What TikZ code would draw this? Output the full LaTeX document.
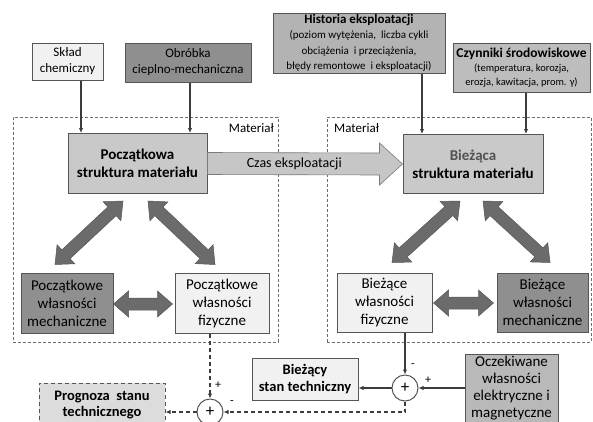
\documentclass[tikz,border=0pt]{standalone}
\usepackage{fontspec}
\setmainfont{Carlito}
\usetikzlibrary{calc,arrows.meta}
\definecolor{lightf}{HTML}{F1F1F1}
\definecolor{darkf}{HTML}{8F8F8F}
\definecolor{midf}{HTML}{B3B3B3}
\definecolor{czynf}{HTML}{BDBDBD}
\definecolor{structf}{HTML}{C9C9C9}
\definecolor{oczf}{HTML}{B9B9B9}
\definecolor{progf}{HTML}{DCDCDC}
\definecolor{bordc}{HTML}{555555}
\definecolor{dashc}{HTML}{6E6E6E}
\definecolor{arrf}{HTML}{6B6B6B}
\definecolor{czasf}{HTML}{C6C6C6}
\definecolor{czasb}{HTML}{7A7A7A}
\definecolor{linec}{HTML}{3C3C3C}
\newcommand\dblarrow[2]{%
  \coordinate (dA) at #1; \coordinate (dB) at #2;
  \coordinate (dAh) at ($(dA)!15pt!(dB)$);
  \coordinate (dBh) at ($(dB)!15pt!(dA)$);
  \filldraw[dblf] (dA) -- ($(dAh)!13pt!90:(dA)$) -- ($(dAh)!6pt!90:(dA)$)
    -- ($(dBh)!6pt!-90:(dB)$) -- ($(dBh)!13pt!-90:(dB)$) -- (dB)
    -- ($(dBh)!13pt!90:(dB)$) -- ($(dBh)!6pt!90:(dB)$)
    -- ($(dAh)!6pt!-90:(dA)$) -- ($(dAh)!13pt!-90:(dA)$) -- cycle;}
\begin{document}
\begin{tikzpicture}[x=1pt,y=-1pt,
  box/.style={draw=bordc, line width=1pt, inner sep=0pt, align=center},
  fa/.style={font=\fontsize{13}{16}\selectfont},
  fb/.style={font=\fontsize{15}{18}\selectfont},
  fs/.style={font=\fontsize{15}{18}\selectfont\bfseries},
  fc/.style={font=\fontsize{14.5}{17}\selectfont\bfseries},
  matbox/.style={draw=dashc, line width=0.9pt, dash pattern=on 3pt off 2pt, inner sep=0pt},
  conn/.style={draw=linec, line width=1.1pt, -{Latex[length=5pt,width=4.5pt]}},
  dconn/.style={conn, line width=1.3pt, dash pattern=on 4pt off 3pt},
  dblf/.style={fill=arrf, draw=arrf!80!black, line width=0.5pt},
  sumc/.style={circle, draw=bordc, line width=1pt, fill=white, minimum size=26pt, inner sep=0pt, font=\fontsize{17}{17}\selectfont},
  sgn/.style={font=\fontsize{12}{12}\selectfont, inner sep=0pt}]
\fill[white] (0,0) rectangle (593,421);
\useasboundingbox (0,0) rectangle (593,421);

% dashed material frames
\node[matbox, minimum width=265pt, minimum height=225pt] (mat1) at (145.5,229.5) {};
\node[matbox, minimum width=264pt, minimum height=225pt] (mat2) at (459,229.5) {};
\node[fa, anchor=east, inner sep=0pt] (mat1l) at (274,128) {Materiał};
\node[fa, anchor=west, inner sep=0pt] (mat2l) at (334,128) {Materiał};

% top input boxes
\node[box, fill=lightf, minimum width=71pt, minimum height=37pt, fa] (sklad) at (67.5,61.5) {Skład\\chemiczny};
\node[box, fill=darkf, minimum width=126pt, minimum height=39pt, fa] (obr) at (188,62.5) {Obróbka\\cieplno-mechaniczna};
\node[box, fill=midf, minimum width=172pt, minimum height=60pt, font=\fontsize{11}{15.5}\selectfont] (hist) at (359,43)
  {\textbf{\fontsize{13}{15.5}\selectfont Historia eksploatacji}\\(poziom wytężenia, \ liczba cykli\\obciążenia \ i przeciążenia,\\błędy remontowe \ i eksploatacji)};
\node[box, fill=czynf, minimum width=137pt, minimum height=49pt, font=\fontsize{10.5}{14}\selectfont] (czyn) at (521.5,67.5)
  {\textbf{\fontsize{13.5}{14}\selectfont Czynniki środowiskowe}\\(temperatura, korozja,\\erozja, kawitacja, prom. γ)};

% structure boxes
\node[box, fill=structf, minimum width=139pt, minimum height=60pt, fs] (ps) at (137.5,163.5) {Początkowa\\struktura materiału};
\node[box, fill=structf, minimum width=140pt, minimum height=59pt, fs] (bs) at (473,164) {\textcolor{black!68}{Bieżąca}\\struktura materiału};

% property boxes
\node[box, fill=darkf, minimum width=92pt, minimum height=60pt, fb] (pm) at (67,303) {Początkowe\\własności\\mechaniczne};
\node[box, fill=lightf, minimum width=94pt, minimum height=60pt, fb] (pf) at (222,303) {Początkowe\\własności\\fizyczne};
\node[box, fill=lightf, minimum width=95pt, minimum height=59pt, fb] (bf) at (384.5,302.5) {Bieżące\\własności\\fizyczne};
\node[box, fill=darkf, minimum width=91pt, minimum height=59pt, fb] (bm) at (542.5,302.5) {Bieżące\\własności\\mechaniczne};

% bottom
\node[box, fill=lightf, minimum width=106pt, minimum height=42pt, fc] (bst) at (305,379) {Bieżący\\stan techniczny};
\node[box, fill=oczf, minimum width=93pt, minimum height=82pt, font=\fontsize{15}{17}\selectfont] (oczek) at (511.5,395.5) {Oczekiwane\\własności\\elektryczne i\\magnetyczne\\\mbox{}};
\node[box, fill=progf, dash pattern=on 4pt off 3pt, minimum width=126pt, minimum height=44pt, fc, font=\fontsize{14.5}{16}\selectfont\bfseries] (prog) at (102,405) {Prognoza \ stanu\\technicznego};
\node[sumc] (c1) at (405,388) {+};
\node[sumc] (c2) at (210,412) {+};
\node[sgn] (m1) at (413,366) {-};
\node[sgn] (p1) at (428,380) {+};
\node[sgn] (p2) at (218,385) {+};
\node[sgn] (m2) at (232,403) {-};

% time arrow
\filldraw[fill=czasf, draw=czasb, line width=0.6pt]
  ($(ps.east)+(0,-11)$) -- ($(bs.west)+(-23,-11)$) -- ($(bs.west)+(-23,-21)$) -- (bs.west)
  -- ($(bs.west)+(-23,21)$) -- ($(bs.west)+(-23,11)$) -- ($(ps.east)+(0,11)$) -- cycle;
\node[font=\fontsize{14}{16}\selectfont, inner sep=0pt] (czas) at ($(ps.east)!0.445!(bs.west)$) {Czas eksploatacji};

% double arrows
\dblarrow{($(ps.south)+(-14.5,7)$)}{($(pm.north)+(-12,-8)$)}
\dblarrow{($(ps.south)+(10.5,7)$)}{($(pf.north)+(-7,-8)$)}
\dblarrow{($(bs.south)+(-13,7)$)}{($(bf.north)+(7.5,-10)$)}
\dblarrow{($(bs.south)+(10,7)$)}{($(bm.north)+(7.5,-10)$)}
\dblarrow{($(pm.east)+(0,1)$)}{($(pf.west)+(-2,1)$)}
\dblarrow{($(bf.east)+(1,0.5)$)}{($(bm.west)+(-3,0.5)$)}

% connectors
\coordinate (k1) at (81,0);
\coordinate (k2) at (190,0);
\coordinate (k3) at (422,0);
\coordinate (k4) at (526,0);
\draw[conn] (sklad.south -| k1) -- (ps.north -| k1);
\draw[conn] (obr.south -| k2) -- (ps.north -| k2);
\draw[conn] (hist.south -| k3) -- (bs.north -| k3);
\draw[conn] (czyn.south -| k4) -- (bs.north -| k4);
\draw[conn] (bf.south -| c1) -- (c1);
\draw[conn] (oczek.west |- c1) -- (c1);
\draw[conn] (c1) -- (bst.east |- c1);
\draw[dconn] (c1) |- (c2);
\draw[dconn] (pf.south -| c2) -- (c2);
\draw[dconn] (c2) -- (prog.east |- c2);
\end{tikzpicture}
\end{document}
